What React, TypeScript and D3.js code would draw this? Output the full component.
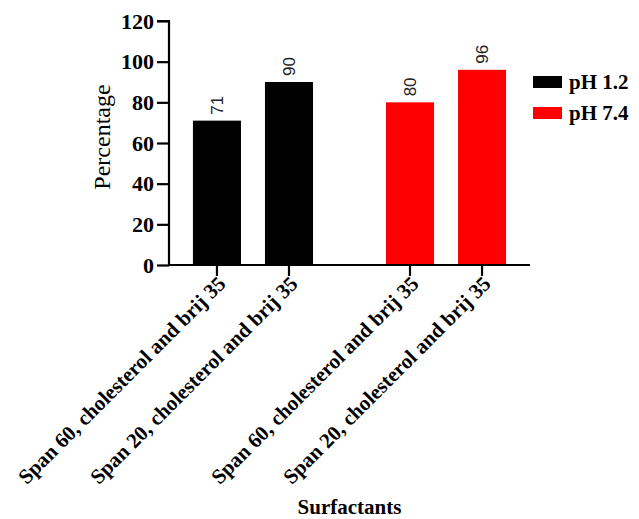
import React, { useEffect, useRef } from "react";
import * as d3 from "d3";

const groups = ["pH 1.2", "pH 7.4"];
const categories = ["Span 60, cholesterol and brij 35", "Span 20, cholesterol and brij 35"];
const valuesPH12 = [71, 90];
const valuesPH74 = [80, 96];
const colors = ["#000000", "#ff0000"];
const yTicks = [0, 20, 40, 60, 80, 100, 120];

export default function App() {
  const ref = useRef<SVGSVGElement>(null);
  useEffect(() => {
    const svg = d3.select(ref.current);
    svg.selectAll("*").remove();
    const left = 169, right = 530, top = 21, bottom = 265;
    const y = d3.scaleLinear().domain([0, 120]).range([bottom, top]);
    const gx = d3.scaleBand().domain(groups).range([left, right]).paddingInner(0.378).paddingOuter(0.124);
    const ix = d3.scaleBand().domain(categories).range([0, gx.bandwidth()]).paddingInner(0.333).paddingOuter(0);
    const serif = "'Liberation Serif', 'Times New Roman', serif";
    const series = [valuesPH12, valuesPH74];

    const data = groups.flatMap((g, gi) => categories.map((c, ci) => ({ g, gi, c, v: series[gi][ci] })));

    const gBars = svg.append("g");
    gBars.selectAll("rect").data(data).join("rect")
      .attr("x", d => (gx(d.g) as number) + (ix(d.c) as number))
      .attr("y", d => y(d.v))
      .attr("width", ix.bandwidth())
      .attr("height", d => y(0) - y(d.v))
      .attr("fill", d => colors[d.gi]);

    // value labels
    gBars.selectAll("text").data(data).join("text")
      .attr("transform", d => `translate(${(gx(d.g) as number) + (ix(d.c) as number) + ix.bandwidth() / 2 + 6},${y(d.v) - 6}) rotate(-90)`)
      .attr("font-family", "'Liberation Sans', Arial, sans-serif")
      .attr("font-size", 17)
      .attr("fill", "#222")
      .text(d => String(d.v));

    // y axis
    const yAxis = svg.append("g").attr("transform", `translate(${left},0)`)
      .call(d3.axisLeft(y).tickValues(yTicks).tickSize(12).tickPadding(3));
    yAxis.select(".domain").attr("stroke-width", 2.2).attr("d", `M-12,${top}H0V${bottom}`);
    yAxis.selectAll(".tick line").attr("stroke-width", 2.2);
    yAxis.selectAll(".tick text").attr("font-family", serif).attr("font-weight", "bold").attr("font-size", 22).attr("fill", "#000");

    // x axis
    const xAxis = svg.append("g").attr("transform", `translate(0,${bottom})`);
    xAxis.append("line").attr("x1", left - 1).attr("x2", right).attr("y1", 0).attr("y2", 0).attr("stroke", "#000").attr("stroke-width", 2.2);
    const tickData = data.map(d => ({ ...d, x: (gx(d.g) as number) + (ix(d.c) as number) + ix.bandwidth() / 2 }));
    xAxis.selectAll("line.t").data(tickData).join("line").attr("class", "t")
      .attr("x1", d => d.x).attr("x2", d => d.x).attr("y1", 0).attr("y2", 11)
      .attr("stroke", "#000").attr("stroke-width", 2.2);
    xAxis.selectAll("text.l").data(tickData).join("text").attr("class", "l")
      .attr("transform", d => `translate(${d.x + 10},${20}) rotate(-45)`)
      .attr("text-anchor", "end")
      .attr("font-family", serif).attr("font-weight", "bold").attr("font-size", 21)
      .text(d => d.c);

    svg.append("text")
      .attr("x", (left + right) / 2).attr("y", 514)
      .attr("text-anchor", "middle")
      .attr("font-family", serif).attr("font-weight", "bold").attr("font-size", 21)
      .text("Surfactants");

    svg.append("text")
      .attr("transform", `translate(110,${(top + bottom) / 2 - 6}) rotate(-90)`)
      .attr("text-anchor", "middle")
      .attr("font-family", serif).attr("font-size", 24)
      .text("Percentage");

    // legend
    const lg = svg.append("g").selectAll("g").data(groups).join("g")
      .attr("transform", (d, i) => `translate(533,${76 + i * 31})`);
    lg.append("rect").attr("width", 29).attr("height", 12).attr("fill", (d, i) => colors[i]);
    lg.append("text").attr("x", 36).attr("y", 13)
      .attr("font-family", serif).attr("font-weight", "bold").attr("font-size", 21)
      .text(d => d);
  }, []);
  return (
    <svg ref={ref} width={639} height={519} style={{ position: "absolute", left: 0, top: 0, background: "#fff" }} />
  );
}
